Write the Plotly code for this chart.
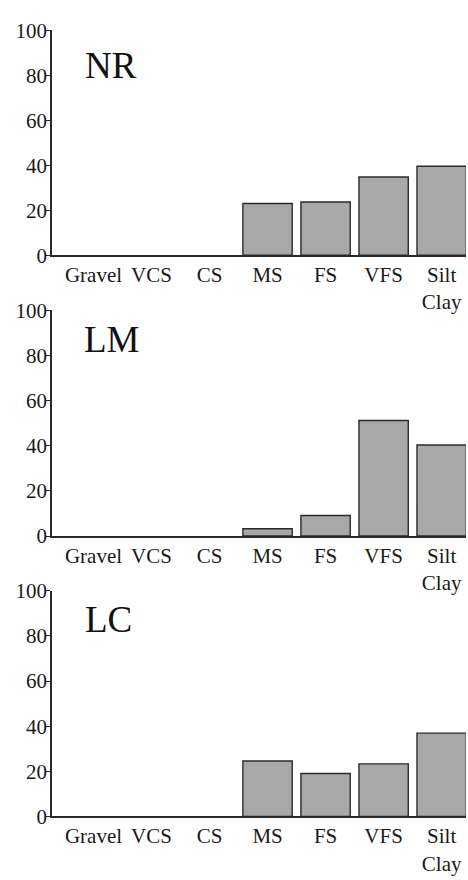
import plotly.graph_objects as go

categories = ["Gravel", "VCS", "CS", "MS", "FS", "VFS", "Silt<br>Clay"]
sites = ["NR", "LM", "LC"]
nr_values = [0, 0, 0, 23, 23.7, 34.8, 39.6]
lm_values = [0, 0, 0, 3.2, 9.1, 51.2, 40.3]
lc_values = [0, 0, 0, 24.6, 19.0, 23.3, 36.9]
y_ticks = [0, 20, 40, 60, 80, 100]

series = [nr_values, lm_values, lc_values]

W, H = 468, 880
FONT = "Liberation Serif"
TXT = "#1a1a1a"

# panel pixel boxes (top, bottom) for y=100 and y=0
panels_px = [(19, 250), (306.7, 538.7), (595, 827)]
label_y = [84.5, 87.2, 87.3]
label_x_px = [83, 82, 83]

fig = go.Figure()
x_left, x_right = 52, 466

for i, (name, vals) in enumerate(zip(sites, series)):
    n = "" if i == 0 else str(i + 1)
    fig.add_trace(go.Bar(
        x=categories, y=vals, xaxis="x" + n, yaxis="y" + n,
        width=0.85,
        marker=dict(color="#a8a8a8",
                    line=dict(color="#2a2a2a",
                              width=[0 if v == 0 else 1.4 for v in vals])),
        showlegend=False,
    ))
    top, bot = panels_px[i]
    fig.update_layout({
        "xaxis" + n: dict(
            domain=[x_left / W, x_right / W],
            anchor="y" + n,
            type="category",
            range=[-0.715, 6.42],
            showline=True, linecolor="#2a2a2a", linewidth=1.6,
            ticks="", showgrid=False, zeroline=False,
            tickfont=dict(family=FONT, size=21, color=TXT),
        ),
        "yaxis" + n: dict(
            domain=[1 - bot / H, 1 - top / H],
            anchor="x" + n,
            range=[0, 100],
            tickvals=y_ticks,
            showline=True, linecolor="#2a2a2a", linewidth=1.6,
            ticks="outside", ticklen=4, tickcolor="#2a2a2a", tickwidth=1.2,
            ticklabelstandoff=-5,
            showgrid=False, zeroline=False,
            tickfont=dict(family=FONT, size=21, color=TXT),
        ),
    })
    fig.add_annotation(
        text=name, xref="paper", yref="y" + n,
        x=label_x_px[i] / W, y=label_y[i],
        xanchor="left", yanchor="middle", showarrow=False,
        font=dict(family=FONT, size=37, color="#111111"),
    )

fig.update_layout(
    width=W, height=H,
    margin=dict(l=0, r=0, t=0, b=0),
    paper_bgcolor="white", plot_bgcolor="white",
    bargap=0.15,
)

fig.write_html("out.html")
